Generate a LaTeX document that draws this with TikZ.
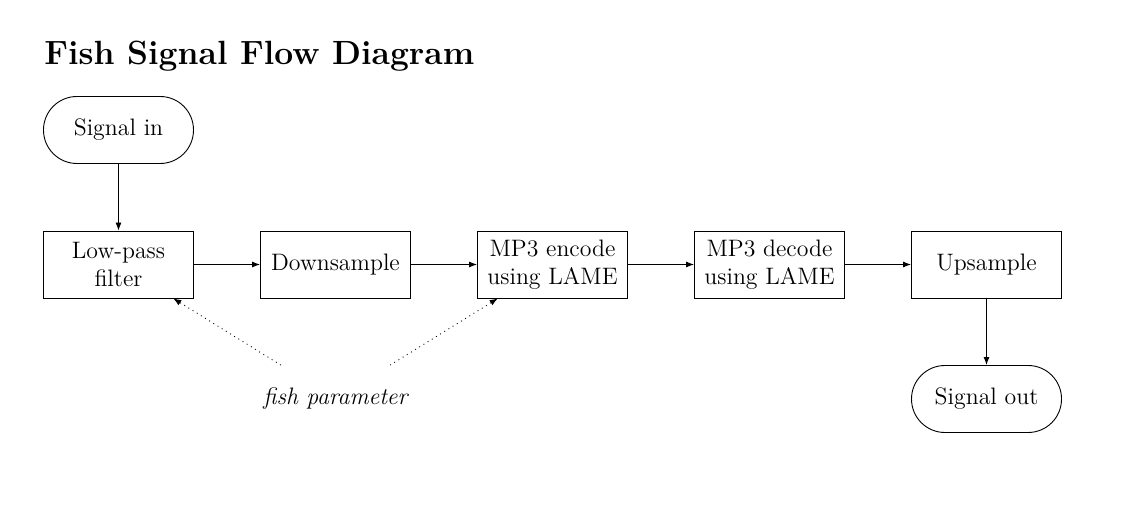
\documentclass[tikz,border=0pt]{standalone}
\usetikzlibrary{arrows.meta}
\begin{document}
\begin{tikzpicture}[x=1pt,y=1pt,
  every node/.style={font=\fontsize{11.9}{14}\selectfont},
  procbox/.style={draw, line width=0.45pt, minimum width=75pt, minimum height=33.5pt, align=center, inner sep=2pt},
  termbox/.style={draw, line width=0.45pt, rounded corners=16.7pt, minimum width=75pt, minimum height=33.5pt, align=center},
  plainbox/.style={minimum width=75pt, minimum height=33.5pt, align=center},
  flow/.style={line width=0.45pt, -{Latex[length=4pt,width=3pt]}},
  param/.style={line width=0.45pt, dotted, -{Latex[length=4pt,width=3pt]}}]
\useasboundingbox (0,0) rectangle (563.5,-261);
\node[anchor=base west, inner sep=0pt, font=\fontsize{16.8}{20}\selectfont\bfseries] (title) at (22,-32.5) {Fish Signal Flow Diagram};
\node[termbox] (sin) at (59.25,-65) {Signal in};
\node[procbox] (lp) at (59.25,-132.25) {Low-pass\\filter};
\node[procbox] (ds) at (167.75,-132.25) {Downsample};
\node[procbox] (enc) at (276.25,-132.25) {MP3 encode\\using LAME};
\node[procbox] (dec) at (384.75,-132.25) {MP3 decode\\using LAME};
\node[procbox] (us) at (493.25,-132.25) {Upsample};
\node[termbox] (sout) at (493.25,-199.5) {Signal out};
\node[plainbox] (fish) at (167.75,-199.5) {\itshape fish parameter};
\draw[flow] (sin) -- (lp);
\draw[flow] (lp) -- (ds);
\draw[flow] (ds) -- (enc);
\draw[flow] (enc) -- (dec);
\draw[flow] (dec) -- (us);
\draw[flow] (us) -- (sout);
\draw[param] (fish) -- (lp);
\draw[param] (fish) -- (enc);
\end{tikzpicture}
\end{document}
